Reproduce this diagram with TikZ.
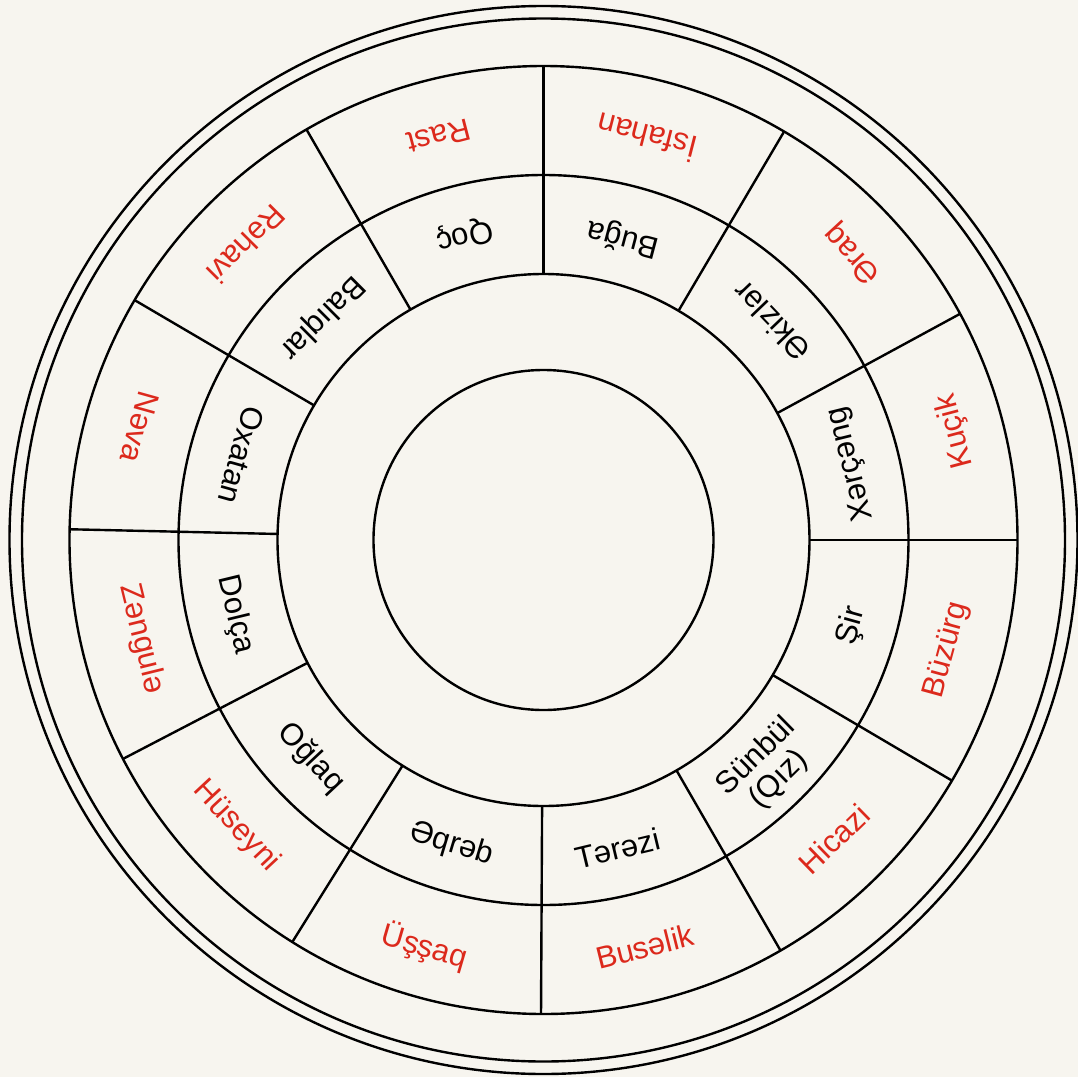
\documentclass[tikz,border=0pt]{standalone}
\usepackage{fontspec}
\setmainfont{Liberation Sans}
\definecolor{bgc}{HTML}{F7F5EF}
\definecolor{lblred}{HTML}{DC291C}
\begin{document}
\begin{tikzpicture}[
  ring/.style={line width=2.4pt, draw=black},
  spoke/.style={line width=2.4pt, draw=black},
  outerlbl/.style={text=lblred, font=\fontsize{31}{35}\selectfont, inner sep=0pt},
  innerlbl/.style={text=black, font=\fontsize{31}{32}\selectfont, inner sep=0pt, align=center}]
\fill[bgc] (-543.5pt,-537pt) rectangle (534.5pt,540pt);
\useasboundingbox (-543.5pt,-537pt) rectangle (534.5pt,540pt);
% circles
\foreach \r in {170,266,365,474,521.5,534} \draw[ring] (0,0) circle[radius=\r pt];
% spokes
\foreach \a in {90,59.5,28.5,0,-30.5,-60,-90.3,-122,-152.5,178.7,149.6,120}
  \draw[spoke] (\a:266pt) -- (\a:474pt);
% outer ring labels
\node[outerlbl, rotate=194.5]  (o1)  at (104.5:417pt)  {Rast};
\node[outerlbl, rotate=165.6]  (o2)  at (75.6:415pt)   {İsfahan};
\node[outerlbl, rotate=132.8]  (o3)  at (42.8:422pt)   {Əraq};
\node[outerlbl, rotate=104.8]  (o4)  at (14.8:426pt)   {Kuçik};
\node[outerlbl, rotate=74.75]  (o5)  at (-15.25:418pt) {Büzürg};
\node[outerlbl, rotate=44.2]   (o6)  at (-45.8:417pt)  {Hicazi};
\node[outerlbl, rotate=14]     (o7)  at (-76:419pt)    {Busəlik};
\node[outerlbl, rotate=-16.3]  (o8)  at (-106.3:424pt) {Üşşaq};
\node[outerlbl, rotate=-47]    (o9)  at (-137:420pt)   {Hüseyni};
\node[outerlbl, rotate=-76.2]  (o10) at (-166.2:414pt) {Zəngulə};
\node[outerlbl, rotate=-105.6] (o11) at (164.4:419pt)  {Nəva};
\node[outerlbl, rotate=-134.9] (o12) at (135.1:419pt)  {Rəhavi};
% inner ring labels
\node[innerlbl, rotate=194.5]  (i1)  at (104.5:315pt)  {Qoç};
\node[innerlbl, rotate=165.2]  (i2)  at (75.2:312pt)   {Buğa};
\node[innerlbl, rotate=133.8]  (i3)  at (43.8:316pt)   {Əkizlər};
\node[innerlbl, rotate=103.9]  (i4)  at (13.9:317pt)   {Xərçəng};
\node[innerlbl, rotate=74.4]   (i5)  at (-15.6:320pt)  {Şir};
\node[innerlbl, rotate=44.5]   (i6)  at (-45.5:320pt)  {Sünbül\\(Qız)};
\node[innerlbl, rotate=13.5]   (i7)  at (-76.5:317pt)  {Tərəzi};
\node[innerlbl, rotate=-16.8]  (i8)  at (-106.8:318pt) {Əqrəb};
\node[innerlbl, rotate=-46.8]  (i9)  at (-136.8:319pt) {Oğlaq};
\node[innerlbl, rotate=-76.4]  (i10) at (-166.4:317pt) {Dolça};
\node[innerlbl, rotate=-105.7] (i11) at (164.3:314pt)  {Oxatan};
\node[innerlbl, rotate=-135.1] (i12) at (134.9:314pt)  {Balıqlar};
\end{tikzpicture}
\end{document}
